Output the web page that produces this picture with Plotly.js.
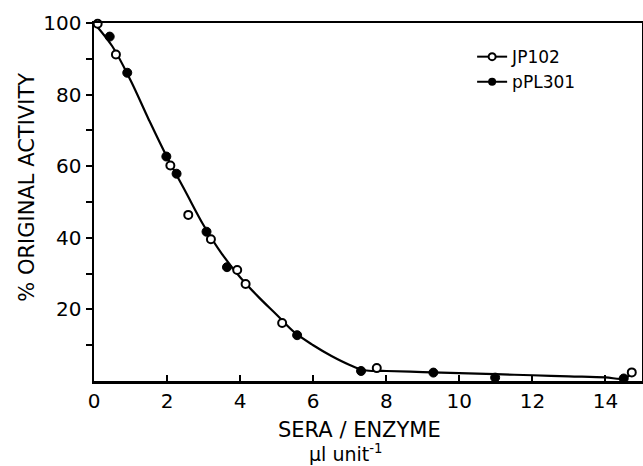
<!DOCTYPE html>
<html><head><meta charset="utf-8">
<script src="https://cdn.plot.ly/plotly-3.0.1.min.js"></script>
<style>html,body{margin:0;padding:0;background:#fff}#chart{width:643px;height:466px}</style>
</head><body><div id="chart"></div>
<script>
// JP102 (open circles)
const jpX = [0.1, 0.6, 2.09, 2.58, 3.2, 3.92, 4.15, 5.15, 7.74, 14.72];
const jpY = [99.8, 91.2, 60.2, 46.4, 39.6, 31.0, 27.1, 16.2, 3.6, 2.4];
// pPL301 (filled circles)
const ppX = [0.43, 0.91, 1.98, 2.26, 3.08, 3.64, 5.56, 7.31, 9.29, 10.98, 14.5];
const ppY = [96.2, 86.1, 62.7, 57.9, 41.7, 31.8, 12.8, 2.8, 2.35, 0.95, 0.7];
// fitted curve drawn through the points
const curveX = [0, 0.5, 1, 1.5, 2, 2.5, 3, 3.5, 4, 4.5, 5, 5.5, 6, 6.5, 7, 7.4, 8, 9, 10, 11, 12, 13, 14, 14.5, 14.75];
const curveY = [100, 93.5, 84, 73, 62.5, 53, 43.5, 35.5, 29, 23.5, 18.5, 13.5, 10, 7, 4.5, 3, 2.8, 2.5, 2.2, 1.9, 1.6, 1.3, 1.0, 0.7, 2.4];
const xTicks = [0, 2, 4, 6, 8, 10, 12, 14];
const yTicks = [20, 40, 60, 80, 100];
const yMinor = [10, 30, 50, 70, 90];
const xTitle1 = 'SERA / ENZYME';
const xTitle2 = 'μl unit<sup>-1</sup>';
const yTitle = '% ORIGINAL ACTIVITY';

const font = "DejaVu Sans, sans-serif";
const traces = [
  {x: curveX, y: curveY, mode: 'lines', line: {color: '#000', width: 2.2, shape: 'spline'}, showlegend: false, hoverinfo: 'skip'},
  {x: jpX, y: jpY, mode: 'markers', marker: {size: 8, color: '#fff', line: {color: '#000', width: 2}}, showlegend: false, cliponaxis: false},
  {x: ppX, y: ppY, mode: 'markers', marker: {size: 9, color: '#000', line: {color: '#000', width: 1}}, showlegend: false, cliponaxis: false},
  {x: [null], y: [null], name: 'JP102', mode: 'lines+markers', line: {color: '#000', width: 2}, marker: {size: 7, color: '#fff', line: {color: '#000', width: 2}}},
  {x: [null], y: [null], name: 'pPL301', mode: 'lines+markers', line: {color: '#000', width: 2}, marker: {size: 8, color: '#000'}}
];
const layout = {
  width: 643, height: 466,
  margin: {l: 94, r: 1, t: 23, b: 85},
  paper_bgcolor: '#fff', plot_bgcolor: '#fff',
  font: {family: font, color: '#000', size: 20},
  showlegend: true,
  legend: {x: 0.69, y: 0.955, xanchor: 'left', yanchor: 'top', bgcolor: 'rgba(0,0,0,0)', font: {size: 17}, tracegroupgap: 0, itemwidth: 30},
  xaxis: {
    range: [0, 15], tickvals: xTicks, ticktext: xTicks.map(String),
    showline: true, linecolor: '#000', linewidth: 2.5, mirror: true,
    ticks: 'inside', ticklen: 6, tickwidth: 2, tickcolor: '#000',
    showgrid: false, zeroline: false,
    tickfont: {size: 20}
  },
  yaxis: {
    range: [0, 100], tickvals: yTicks, ticktext: yTicks.map(String),
    showline: true, linecolor: '#000', linewidth: 2.5, mirror: true,
    ticks: 'outside', ticklen: 6, tickwidth: 2, tickcolor: '#000',
    minor: {tickvals: yMinor, ticks: 'outside', ticklen: 6, tickwidth: 2, tickcolor: '#000', showgrid: false},
    showgrid: false, zeroline: false,
    tickfont: {size: 20}
  },
  annotations: [
    {text: xTitle1, xref: 'paper', yref: 'paper', x: 0.485, y: 0, yshift: -49, xanchor: 'center', yanchor: 'middle', showarrow: false, font: {size: 21}},
    {text: xTitle2, xref: 'paper', yref: 'paper', x: 0.46, y: 0, yshift: -72, xanchor: 'center', yanchor: 'middle', showarrow: false, font: {size: 19}},
    {text: yTitle, xref: 'paper', yref: 'paper', x: 0, xshift: -67, y: 0.54, xanchor: 'center', yanchor: 'middle', textangle: -90, showarrow: false, font: {size: 21}}
  ]
};
Plotly.newPlot('chart', traces, layout, {displayModeBar: false, staticPlot: true});
</script></body></html>
